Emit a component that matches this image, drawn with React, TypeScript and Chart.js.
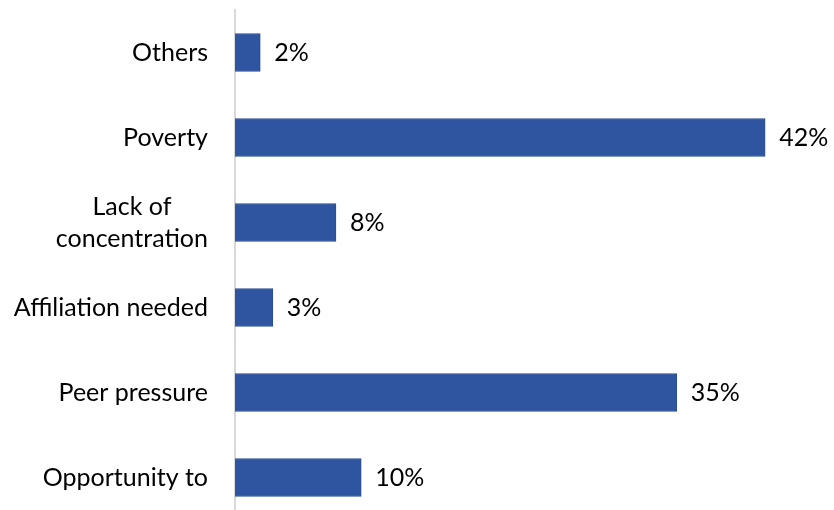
import React, { useEffect, useRef } from "react";
import { Chart, registerables } from "chart.js";

Chart.register(...registerables);

const categories: (string | string[])[] = [
  "Others",
  "Poverty",
  ["Lack of", "concentration"],
  "Affiliation needed",
  "Peer pressure",
  "Opportunity to",
];
const values: number[] = [2, 42, 8, 3, 35, 10];
const valueLabels: string[] = ["2%", "42%", "8%", "3%", "35%", "10%"];

const FONT = "Lato, 'Open Sans', sans-serif";

const labelPlugin = {
  id: "customLabels",
  afterDatasetsDraw(chart: any) {
    const ctx = chart.ctx;
    const yScale = chart.scales.y;
    const meta = chart.getDatasetMeta(0);
    ctx.save();
    ctx.fillStyle = "#000000";
    ctx.font = `25px ${FONT}`;
    ctx.textBaseline = "middle";
    const lineH = 32;
    const rightX = chart.chartArea.left - 27;
    categories.forEach((cat, i) => {
      const lines = Array.isArray(cat) ? cat : [cat];
      const yc = yScale.getPixelForTick(i);
      const widths = lines.map((l) => ctx.measureText(l).width);
      const maxW = Math.max(...widths);
      const blockCenter = rightX - maxW / 2;
      const startY = yc - ((lines.length - 1) * lineH) / 2;
      ctx.textAlign = "center";
      lines.forEach((l, j) => {
        ctx.fillText(l, blockCenter, startY + j * lineH);
      });
    });
    meta.data.forEach((bar: any, i: number) => {
      ctx.textAlign = "left";
      ctx.fillText(valueLabels[i], bar.x + 14, bar.y);
    });
    ctx.restore();
  },
};

export default function App() {
  const ref = useRef<HTMLCanvasElement | null>(null);
  useEffect(() => {
    if (!ref.current) return;
    const chart = new Chart(ref.current, {
      type: "bar",
      data: {
        labels: categories as any,
        datasets: [
          {
            data: values,
            backgroundColor: "#2F55A0",
            borderColor: "#2A4E93",
            borderWidth: 1,
            barThickness: 38,
          },
        ],
      },
      options: {
        indexAxis: "y",
        animation: false,
        responsive: false,
        maintainAspectRatio: false,
        layout: { padding: { left: 227, right: 31, top: 10, bottom: 0 } },
        plugins: {
          legend: { display: false },
          tooltip: { enabled: false },
        },
        scales: {
          x: {
            display: false,
            min: 0,
            max: 45,
          },
          y: {
            display: true,
            ticks: { display: false },
            grid: { display: false },
            border: { display: true, color: "#D9D9D9", width: 2 },
          },
        },
      },
      plugins: [labelPlugin],
    });
    return () => chart.destroy();
  }, []);
  return (
    <div style={{ position: "absolute", left: 0, top: 0, width: 834, height: 520 }}>
      <canvas ref={ref} width={834} height={520} style={{ width: 834, height: 520 }} />
    </div>
  );
}
